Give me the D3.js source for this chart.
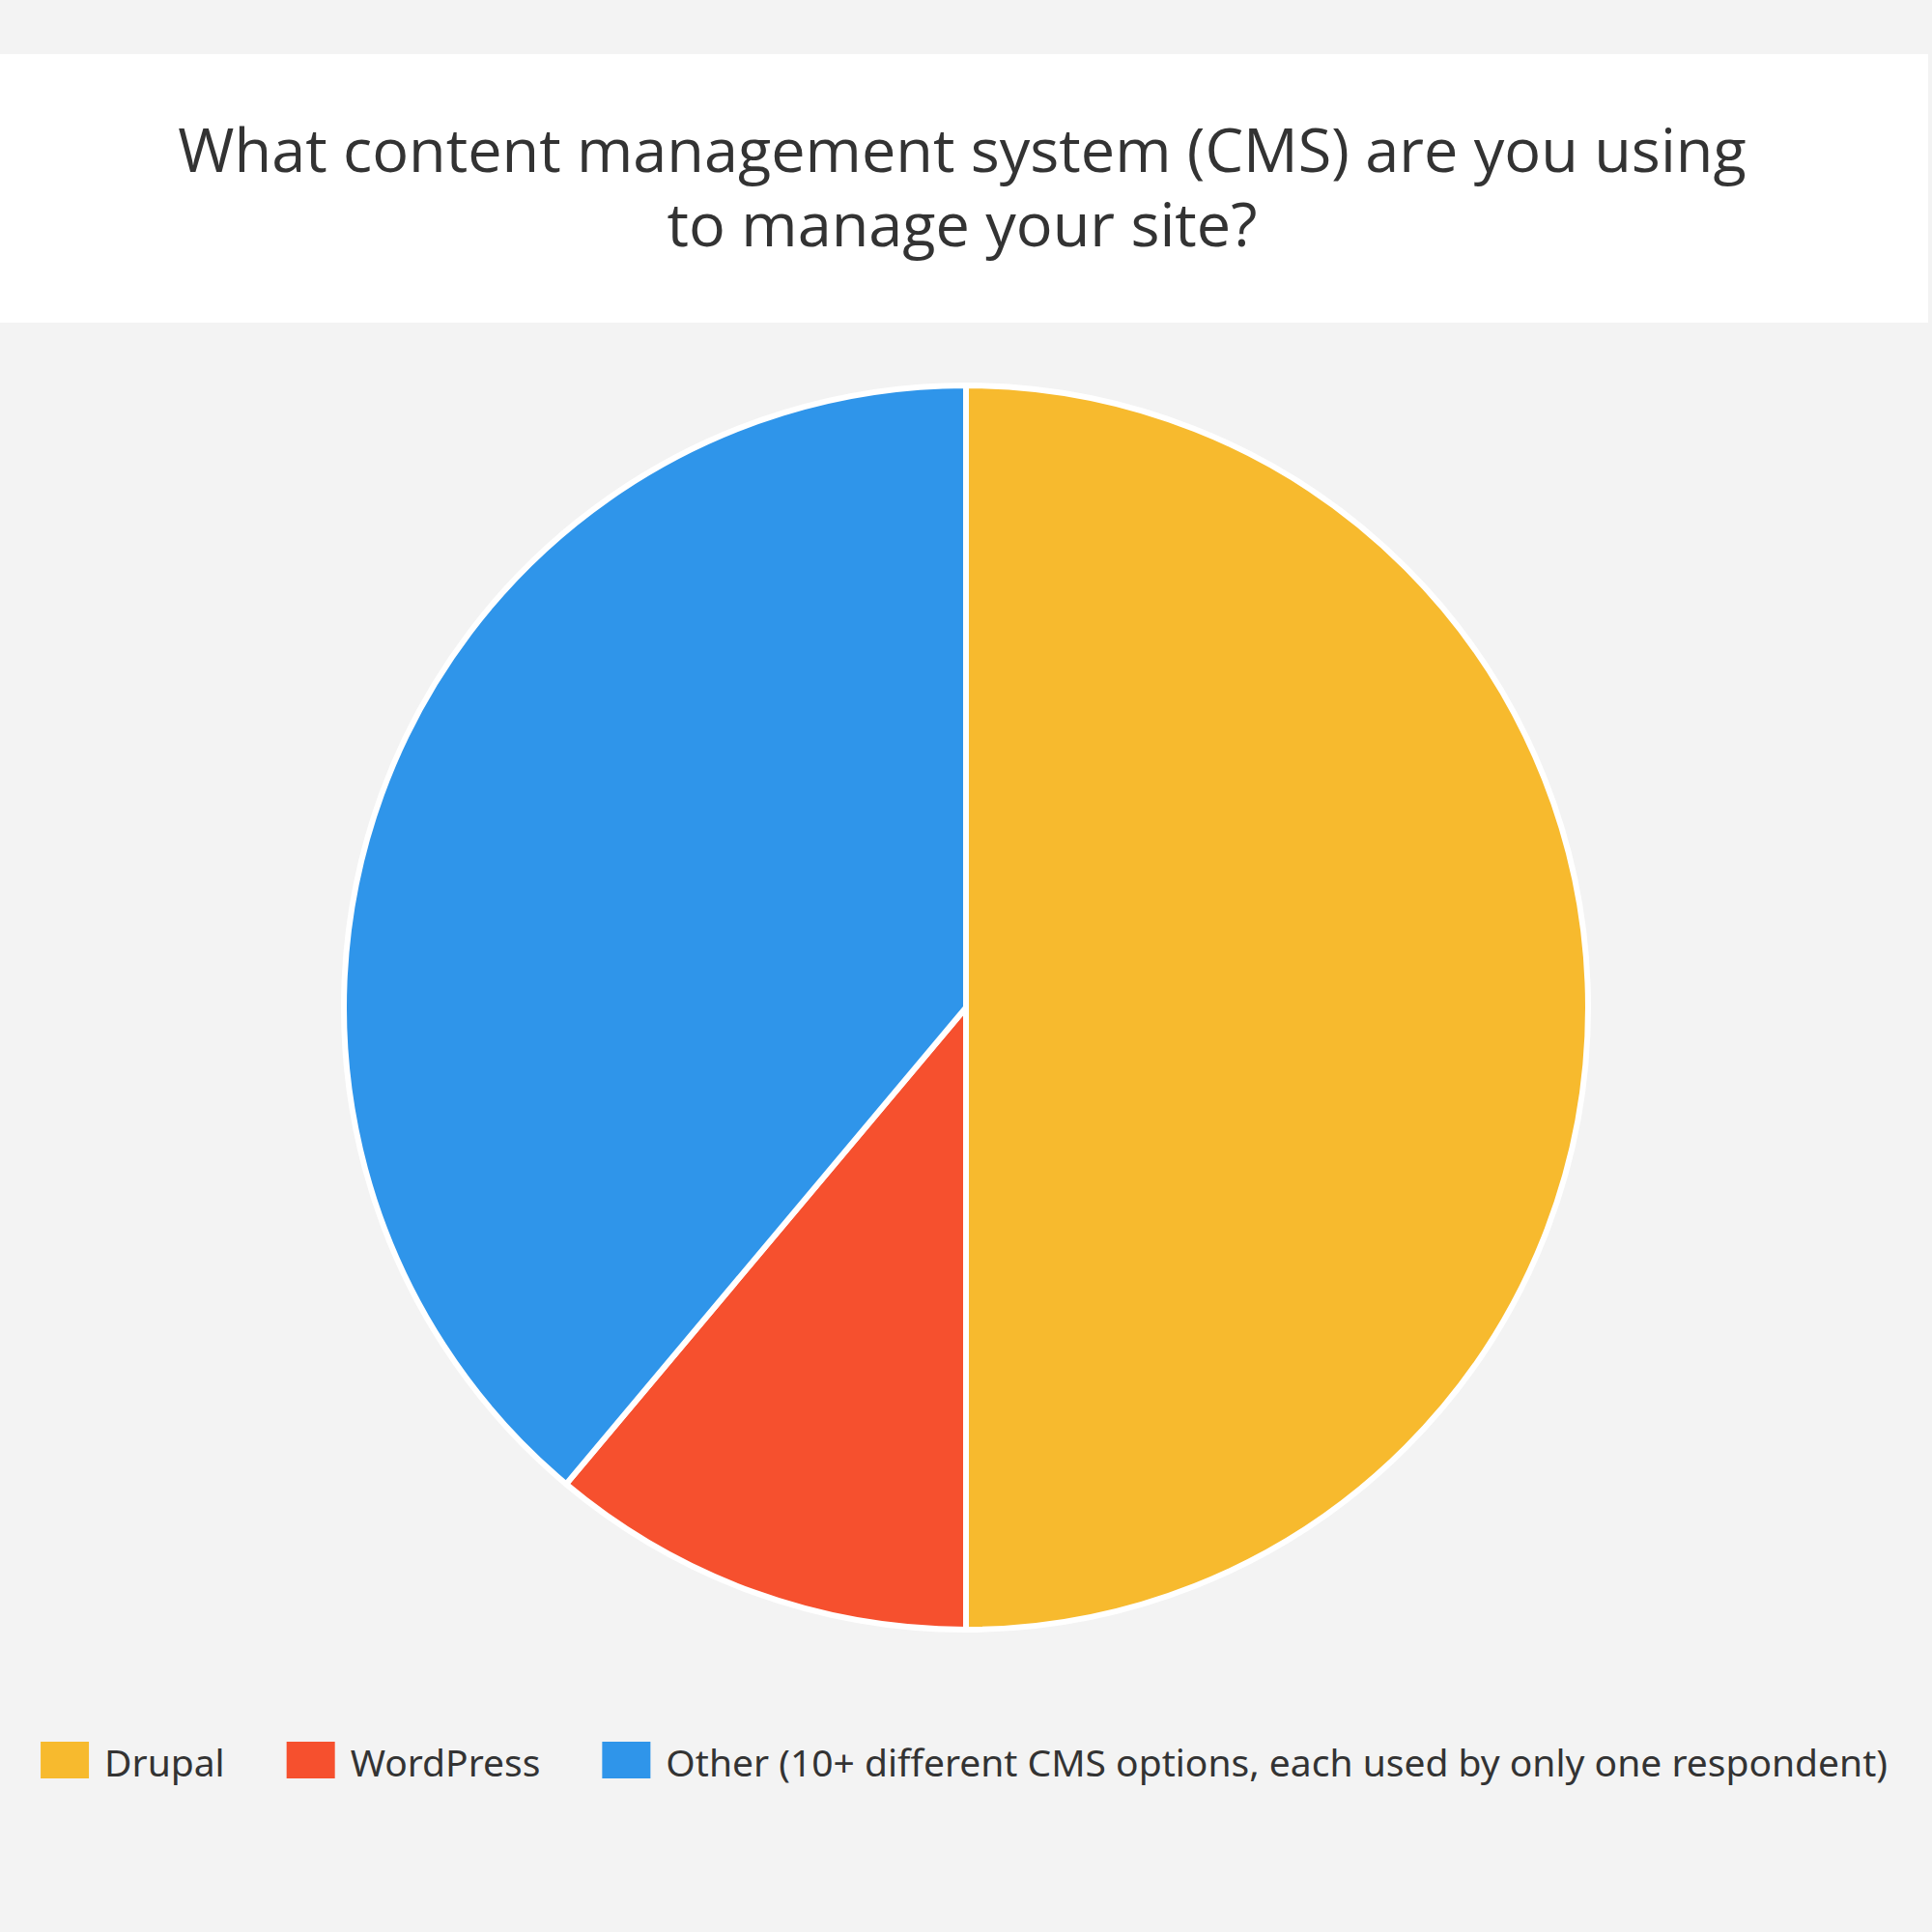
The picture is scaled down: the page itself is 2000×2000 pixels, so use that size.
<!DOCTYPE html>
<html>
<head>
<meta charset="utf-8">
<script src="https://cdn.jsdelivr.net/npm/d3@7"></script>
<style>
  body { margin: 0; background: #f3f3f3; }
  svg { display: block; }
</style>
</head>
<body>
<div id="chart"></div>
<script>
const titleLines = [
  "What content management system (CMS) are you using",
  "to manage your site?",
];
const categories = [
  "Drupal",
  "WordPress",
  "Other (10+ different CMS options, each used by only one respondent)",
];
const counts = [9, 2, 7];
const colors = ["#f7ba2e", "#f6502e", "#2f95ea"];

const width = 2000;
const height = 2000;

const svg = d3
  .select("#chart")
  .append("svg")
  .attr("width", width)
  .attr("height", height);

svg.append("rect").attr("width", width).attr("height", height).attr("fill", "#f3f3f3");

// title band
svg.append("rect").attr("x", 0).attr("y", 56).attr("width", 1996).attr("height", 278).attr("fill", "#ffffff");

svg
  .append("g")
  .selectAll("text")
  .data(titleLines)
  .enter()
  .append("text")
  .attr("x", 996)
  .attr("y", (d, i) => 178 + i * 77)
  .attr("text-anchor", "middle")
  .style("font-family", "'Open Sans', sans-serif")
  .style("font-size", "63px")
  .style("fill", "#333333")
  .text((d) => d);

// pie
const slices = categories.map((c, i) => ({ name: c, value: counts[i], color: colors[i] }));
const pie = d3.pie().sort(null).value((d) => d.value);
const arc = d3.arc().innerRadius(0).outerRadius(644);

svg
  .append("g")
  .attr("transform", "translate(1000,1043)")
  .selectAll("path")
  .data(pie(slices))
  .enter()
  .append("path")
  .attr("d", arc)
  .style("fill", (d) => d.data.color)
  .style("stroke", "#ffffff")
  .style("stroke-width", 6)
  .style("stroke-linejoin", "round");

// legend
const legend = svg.append("g").attr("transform", "translate(0,1803)");
const items = legend
  .selectAll("g")
  .data(slices)
  .enter()
  .append("g");

items
  .append("rect")
  .attr("width", 50)
  .attr("height", 38)
  .style("fill", (d) => d.color);

items
  .append("text")
  .attr("x", 66)
  .attr("y", 36)
  .style("font-family", "'Noto Sans', sans-serif")
  .style("font-size", "39px")
  .style("fill", "#333333")
  .text((d) => d.name);

let x = 0;
const offsets = [];
items.each(function () {
  offsets.push(x);
  const w = d3.select(this).select("text").node().getComputedTextLength();
  x += 66 + w + 64;
});
const total = x - 64;
const start = 998 - total / 2;
items.attr("transform", (d, i) => "translate(" + (start + offsets[i]) + ",0)");
</script>
</body>
</html>
